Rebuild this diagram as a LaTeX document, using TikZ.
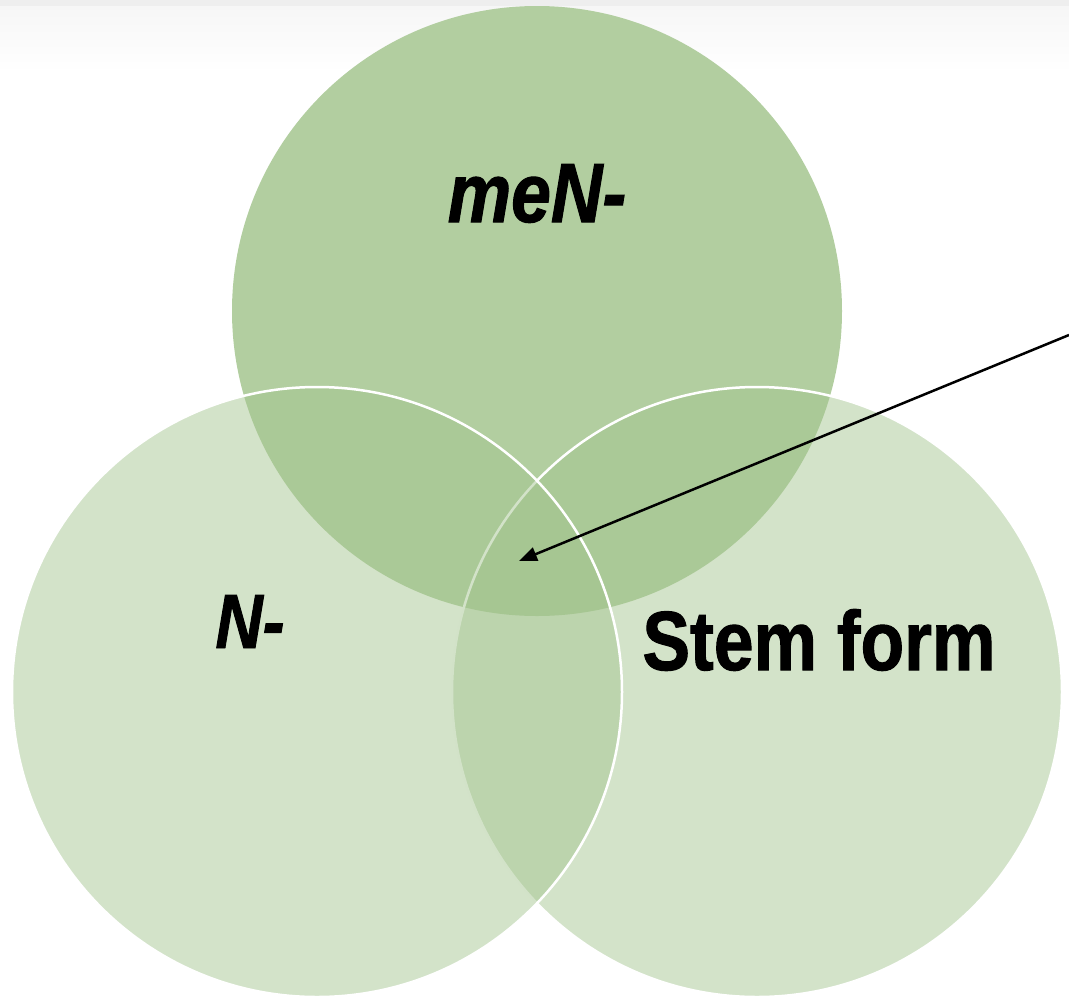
\documentclass[tikz,border=0pt]{standalone}
\usepackage{fontspec}
\setmainfont{Liberation Sans}
\newfontfamily\labfont[FakeStretch=0.85,FakeBold=1.2]{Liberation Sans}
\usetikzlibrary{arrows.meta}
\definecolor{topgreen}{RGB}{178,206,160}
\definecolor{softgreen}{RGB}{163,196,142}
\definecolor{bandgray}{RGB}{238,238,238}
\definecolor{bandlight}{RGB}{246,246,246}
\tikzset{
  topcircle/.style={circle, minimum size=610pt, inner sep=0pt, fill=topgreen},
  lowcircle/.style={circle, minimum size=610pt, inner sep=0pt, fill=softgreen, fill opacity=0.48, draw=white, draw opacity=1, line width=2.5pt},
  lab/.style={anchor=base, inner sep=0pt, font=\labfont\bfseries\fontsize{84}{100}\selectfont},
  pointer/.style={-{Triangle[length=18pt,width=14pt]}, line width=2.5pt, black}
}
\begin{document}
\begin{tikzpicture}[x=1pt,y=-1pt]
\useasboundingbox (0,0) rectangle (1069,997);
\fill[bandgray] (0,0) rectangle (1069,6);
\shade[top color=bandlight, bottom color=white] (0,6) rectangle (1069,72);
\node[topcircle] (topc) at (537,311) {};
\node[lowcircle] (rightc) at (757,692) {};
\node[lowcircle] (leftc) at (317,692) {};
\node[lab, font=\labfont\bfseries\itshape\fontsize{84}{100}\selectfont] (menl) at (537,222) {meN-};
\node[lab, font=\labfont\bfseries\itshape\fontsize{77}{92}\selectfont] (nl) at (250,648) {N-};
\node[lab] (steml) at (819,670) {Stem form};
\coordinate (from) at (1069,335);
\coordinate (to) at (519,561);
\draw[pointer] (from) -- (to);
\end{tikzpicture}
\end{document}
